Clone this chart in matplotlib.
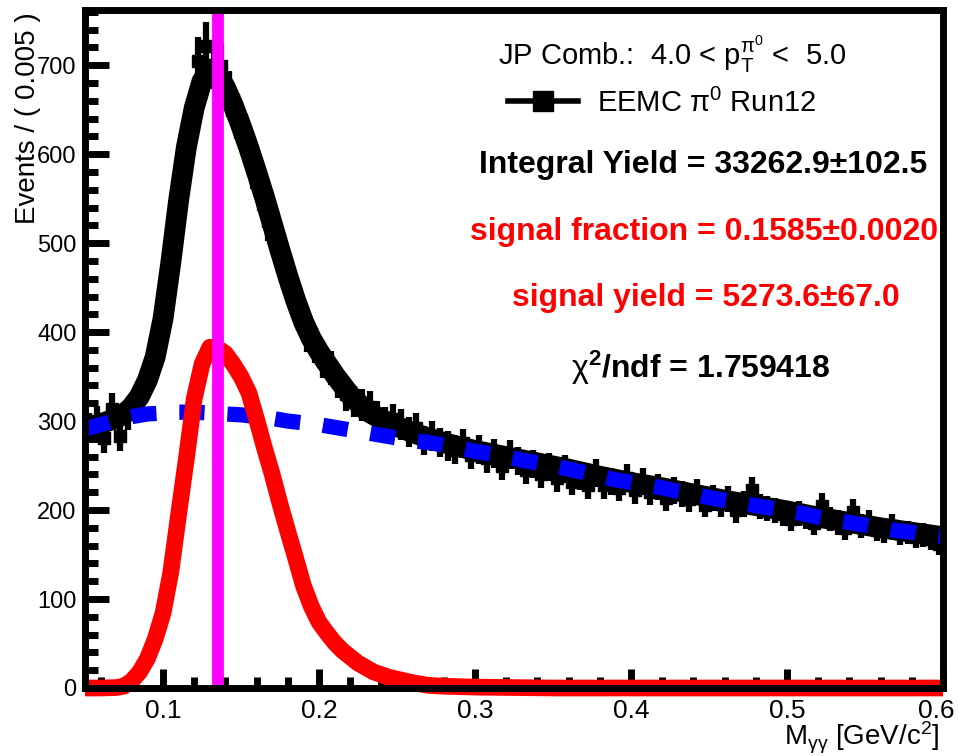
import matplotlib
matplotlib.use('Agg')
import matplotlib.pyplot as plt
import matplotlib.transforms as mtransforms
import numpy as np
from matplotlib.lines import Line2D
from matplotlib.ticker import MultipleLocator, FixedLocator

plt.rcParams['font.family'] = ['Liberation Sans', 'DejaVu Sans']
plt.rcParams['mathtext.fontset'] = 'custom'
plt.rcParams['mathtext.rm'] = 'Liberation Sans'
plt.rcParams['mathtext.it'] = 'Liberation Sans:italic'
plt.rcParams['mathtext.bf'] = 'Liberation Sans:bold'

# ---------------- data ----------------
bin_width = 0.005
bin_centers = np.arange(0.0525, 0.6, bin_width)
counts = [292, 300, 281, 314, 283, 308, 322, 338, 362, 392,
          440, 515, 585, 640, 705, 722, 700, 699, 668, 642,
          620, 585, 560, 525, 505, 470, 446, 422, 398, 385,
          368, 360, 345, 330, 322, 318, 316, 305, 298, 302,
          296, 288, 292, 278, 283, 276, 272, 268, 275, 262,
          268, 258, 264, 250, 262, 255, 245, 252, 240, 248,
          236, 246, 232, 238, 228, 242, 228, 232, 225, 236,
          222, 232, 220, 226, 214, 222, 218, 212, 220, 206,
          214, 207, 212, 200, 207, 222, 204, 202, 199, 196,
          190, 196, 192, 185, 205, 190, 186, 180, 198, 182,
          186, 178, 176, 182, 174, 175, 170, 172, 168, 162]

# total fit (signal + background)
tot_x = [0.05, 0.06, 0.07, 0.075, 0.08, 0.085, 0.09, 0.095, 0.10, 0.105,
         0.11, 0.115, 0.12, 0.125, 0.13, 0.135, 0.14, 0.145, 0.15, 0.155,
         0.16, 0.165, 0.17, 0.175, 0.18, 0.185, 0.19, 0.195, 0.20, 0.21,
         0.22, 0.23, 0.24, 0.25, 0.26, 0.27, 0.28, 0.29, 0.30, 0.32,
         0.34, 0.36, 0.38, 0.40, 0.42, 0.44, 0.46, 0.48, 0.50, 0.52,
         0.54, 0.56, 0.58, 0.60]
tot_y = [292, 297, 303, 308, 316, 328, 346, 372, 415, 478,
         548, 608, 652, 682, 695, 690, 675, 655, 632, 607,
         580, 552, 522, 492, 463, 436, 412, 393, 378, 352,
         329, 312, 302, 294, 287, 281, 276, 271, 267, 260,
         253, 246, 238, 231, 225, 218, 211, 205, 199, 192,
         186, 180, 175, 170]

# signal component
sig_x = [0.05, 0.06, 0.07, 0.075, 0.08, 0.085, 0.09, 0.095, 0.10, 0.105,
         0.11, 0.115, 0.12, 0.125, 0.13, 0.135, 0.14, 0.145, 0.15, 0.155,
         0.16, 0.165, 0.17, 0.175, 0.18, 0.185, 0.19, 0.195, 0.20, 0.205,
         0.21, 0.215, 0.22, 0.225, 0.23, 0.235, 0.24, 0.245, 0.25, 0.26,
         0.27, 0.28, 0.30, 0.35, 0.60]
sig_y = [0, 0, 0.5, 2, 8, 18, 33, 55, 84, 130,
         195, 258, 325, 364, 383, 382, 376, 364, 350, 332,
         302, 270, 240, 207, 176, 146, 115, 92, 74, 62,
         51, 42, 35, 28, 23, 18, 15, 12, 10, 6,
         3, 2, 1, 0, 0]

# background component
bkg_x = [0.05, 0.06, 0.07, 0.08, 0.09, 0.10, 0.11, 0.12, 0.13, 0.14,
         0.15, 0.16, 0.17, 0.18, 0.19, 0.20, 0.21, 0.22, 0.23, 0.24,
         0.25, 0.26, 0.27, 0.28, 0.29, 0.30, 0.31, 0.32, 0.33, 0.34,
         0.35, 0.36, 0.37, 0.38, 0.39, 0.40, 0.41, 0.42, 0.43, 0.44,
         0.45, 0.46, 0.47, 0.48, 0.49, 0.50, 0.51, 0.52, 0.53, 0.54,
         0.55, 0.56, 0.57, 0.58, 0.59, 0.60]
bkg_y = [291, 296, 301, 305, 308, 309, 310, 310, 309, 308,
         307, 305, 303, 300, 298, 296, 293, 290, 287, 284,
         281, 278, 276, 273, 270, 266, 263, 260, 256, 253,
         250, 246, 242, 238, 234, 231, 228, 225, 221, 218,
         214, 211, 208, 205, 202, 199, 196, 192, 189, 186,
         183, 180, 177, 175, 172, 170]

pi0_mass = 0.135

y_ticks = [0, 100, 200, 300, 400, 500, 600, 700]
x_ticks = [0.1, 0.2, 0.3, 0.4, 0.5, 0.6]
x_ticklabels = ['0.1', '0.2', '0.3', '0.4', '0.5', '0.6']

# ---------------- figure ----------------
fig = plt.figure(figsize=(9.59, 7.56), dpi=100)
ax = fig.add_axes([85/959, 1 - 688/756, (943-85)/959, (688-10)/756])

errs = np.sqrt(np.array(counts, dtype=float))
ax.errorbar(bin_centers, counts, yerr=errs, fmt='s', color='black', ms=9,
            elinewidth=4.5, capsize=0, zorder=3)
ax.plot(tot_x, tot_y, color='black', lw=15, solid_joinstyle='round', zorder=4)
ax.plot(bkg_x, bkg_y, color='#0000ff', lw=11, dashes=(1.65, 1.5), zorder=5)
ax.plot(sig_x, sig_y, color='#ff0000', lw=12, zorder=5, clip_on=False,
        solid_capstyle='butt')
ax.axvline(pi0_mass, color='#ff00ff', lw=8.5, zorder=6)

ax.set_xlim(0.05, 0.6)
ax.set_ylim(0, 762)

for side in ['left', 'bottom', 'top', 'right']:
    ax.spines[side].set_linewidth(5)
    ax.spines[side].set_zorder(7)

ax.yaxis.set_major_locator(FixedLocator(y_ticks))
ax.yaxis.set_minor_locator(MultipleLocator(20))
ax.xaxis.set_major_locator(FixedLocator(x_ticks))
ax.set_xticklabels(x_ticklabels)
ax.xaxis.set_minor_locator(MultipleLocator(0.02))
ax.tick_params(axis='both', which='both', direction='in', top=False, right=False,
               width=5)
ax.tick_params(axis='y', which='major', length=17, pad=6, labelsize=17)
ax.tick_params(axis='y', which='minor', length=9)
ax.tick_params(axis='x', which='major', length=14, pad=8, labelsize=19)
ax.tick_params(axis='x', which='minor', length=8)

fig.text(28/959, 1 - 12/756, 'Events / ( 0.005 )', rotation=90, ha='center',
         va='top', fontsize=20)
fig.text(940/959, 1 - 738/756, r'M$_{\mathrm{\gamma\gamma}}$ [GeV/c$^{2}$]', ha='right',
         va='center', fontsize=20)

ax.text(0.684, 0.934, r'JP Comb.:  4.0 < p$_{\mathrm{T}}^{\mathrm{\pi}^{0}}$ <  5.0',
        transform=ax.transAxes, ha='center', va='center', fontsize=21)

handle = Line2D([], [], color='black', lw=4, marker='s', ms=15)
ax.legend([handle], [r'EEMC $\mathrm{\pi}^{0}$ Run12'], loc='center left',
          bbox_to_anchor=((508-85)/858, (688-103)/678), frameon=False,
          fontsize=21, handlelength=2.4, handletextpad=0.65, borderpad=0,
          borderaxespad=0)

ax.text(0.721, 0.771, 'Integral Yield = 33262.9\u00b1102.5', transform=ax.transAxes,
        ha='center', va='center', fontsize=23, fontweight='bold', color='black')
ax.text(0.721, 0.673, 'signal fraction = 0.1585\u00b10.0020', transform=ax.transAxes,
        ha='center', va='center', fontsize=23, fontweight='bold', color='#ff0000')
ax.text(0.724, 0.575, 'signal yield = 5273.6\u00b167.0', transform=ax.transAxes,
        ha='center', va='center', fontsize=23, fontweight='bold', color='#ff0000')
ax.text(0.718, 0.472, r'$\mathrm{\chi}^{\mathbf{2}}$' + '/ndf = 1.759418',
        transform=ax.transAxes, ha='center', va='center', fontsize=23,
        fontweight='bold', color='black')

# keep the last x tick label inside the canvas
fig.canvas.draw()
last_lbl = ax.xaxis.get_major_ticks()[-1].label1
last_lbl.set_transform(last_lbl.get_transform() +
                       mtransforms.ScaledTranslation(-5/72, 0, fig.dpi_scale_trans))

fig.savefig('out.png', dpi=100)
